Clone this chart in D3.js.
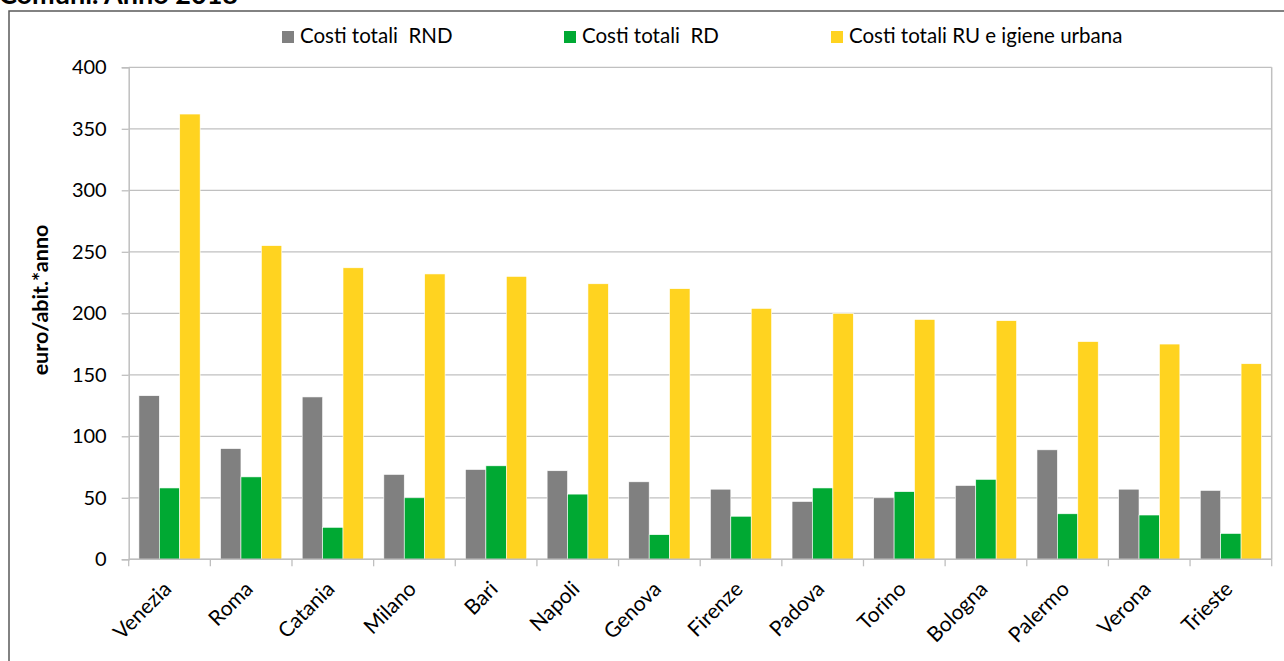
<!DOCTYPE html>
<html>
<head>
<meta charset="utf-8">
<script src="https://cdn.jsdelivr.net/npm/d3@7"></script>
<style>
  body { margin: 0; background: #fff; }
  svg text { font-family: Lato, "Open Sans", sans-serif; fill: #000; }
</style>
</head>
<body>
<div id="chart"></div>
<script>
// dati: costi per abitante (euro/abit.*anno)
var cities = ["Venezia","Roma","Catania","Milano","Bari","Napoli","Genova","Firenze","Padova","Torino","Bologna","Palermo","Verona","Trieste"];
var costiRND = [133, 90, 132, 69, 73, 72, 63, 57, 47, 50, 60, 89, 57, 56];
var costiRD  = [58, 67, 26, 50, 76, 53, 20, 35, 58, 55, 65, 37, 36, 21];
var costiRU  = [362, 255, 237, 232, 230, 224, 220, 204, 200, 195, 194, 177, 175, 159];
var seriesNames = ["Costi totali  RND", "Costi totali  RD", "Costi totali RU e igiene urbana"];
var seriesColors = ["#808080", "#00a933", "#ffd320"];
var yTicks = [0, 50, 100, 150, 200, 250, 300, 350, 400];

var W = 1284, H = 661;
var pLeft = 128.7, pRight = 1271.7, pTop = 67.3, pBottom = 559.3;

var svg = d3.select("#chart").append("svg")
    .attr("width", W)
    .attr("height", H);

// titolo tagliato in alto
svg.append("text").attr("x", -1).attr("y", 4)
    .attr("font-size", 27).attr("font-weight", "bold")
    .text("Comuni. Anno 2018");

// cornice esterna
svg.append("path")
    .attr("d", "M9," + H + " V11 H" + W)
    .attr("fill", "none").attr("stroke", "#595959").attr("stroke-width", 1.5);

var y = d3.scaleLinear().domain([0, 400]).range([pBottom, pTop]);
var x = d3.scaleBand().domain(cities).range([pLeft, pRight]);
var bw = x.bandwidth();
var x1 = d3.scaleBand().domain(d3.range(3)).range([bw * 0.125, bw * 0.875]);

// griglia
svg.append("g").selectAll("line").data(yTicks).enter().append("line")
    .attr("x1", pLeft).attr("x2", pRight)
    .attr("y1", function (d) { return y(d); }).attr("y2", function (d) { return y(d); })
    .attr("stroke", "#c0c0c0").attr("stroke-width", 1.3);
svg.append("line").attr("x1", pRight).attr("x2", pRight).attr("y1", pTop).attr("y2", pBottom)
    .attr("stroke", "#c0c0c0").attr("stroke-width", 1.5);

// barre
var data = [costiRND, costiRD, costiRU];
var groups = svg.append("g").selectAll("g").data(cities).enter().append("g")
    .attr("transform", function (d) { return "translate(" + x(d) + ",0)"; });
groups.selectAll("rect").data(function (d, i) { return data.map(function (s) { return s[i]; }); })
    .enter().append("rect")
    .attr("x", function (d, k) { return x1(k); })
    .attr("width", x1.bandwidth())
    .attr("y", function (d) { return y(d); })
    .attr("height", function (d) { return pBottom - y(d); })
    .attr("fill", function (d, k) { return seriesColors[k]; })
    .attr("stroke", "#ffffff").attr("stroke-width", 0.6);

// asse y
var yAxis = d3.axisLeft(y).tickValues(yTicks).tickSize(7).tickPadding(15);
var gy = svg.append("g").attr("transform", "translate(" + pLeft + ",0)").call(yAxis);
gy.select(".domain").attr("stroke", "#bfbfbf").attr("stroke-width", 1.5);
gy.selectAll(".tick line").attr("stroke", "#bfbfbf").attr("stroke-width", 1.3);
gy.selectAll("text").attr("font-size", 20).attr("font-family", "Lato").attr("fill", "#000");

// asse x
var gx = svg.append("g").attr("transform", "translate(0," + pBottom + ")");
gx.append("line").attr("x1", pLeft).attr("x2", pRight).attr("stroke", "#bfbfbf").attr("stroke-width", 1.5);
gx.selectAll(".tk").data(cities.concat(["end"])).enter().append("line")
    .attr("x1", function (d) { return d === "end" ? pRight : x(d); })
    .attr("x2", function (d) { return d === "end" ? pRight : x(d); })
    .attr("y1", 0).attr("y2", 7)
    .attr("stroke", "#bfbfbf").attr("stroke-width", 1.3);
gx.selectAll(".lbl").data(cities).enter().append("text")
    .attr("text-anchor", "end")
    .attr("font-size", 21)
    .attr("transform", function (d) { return "translate(" + (x(d) + bw / 2 + 3) + ",31) rotate(-45)"; })
    .text(function (d) { return d; });

// titolo asse y
svg.append("text")
    .attr("transform", "translate(48,300) rotate(-90)")
    .attr("text-anchor", "middle")
    .attr("font-size", 21.5).attr("font-weight", "bold")
    .text("euro/abit.*anno");

// legenda
var legX = [282, 564, 831];
var leg = svg.append("g").selectAll("g").data(seriesNames).enter().append("g")
    .attr("transform", function (d, i) { return "translate(" + legX[i] + ",31)"; });
leg.append("rect").attr("width", 12).attr("height", 12)
    .attr("fill", function (d, i) { return seriesColors[i]; });
leg.append("text").attr("x", 18).attr("y", 12)
    .attr("font-size", 20.5)
    .style("white-space", "pre")
    .text(function (d) { return d; });
</script>
</body>
</html>
